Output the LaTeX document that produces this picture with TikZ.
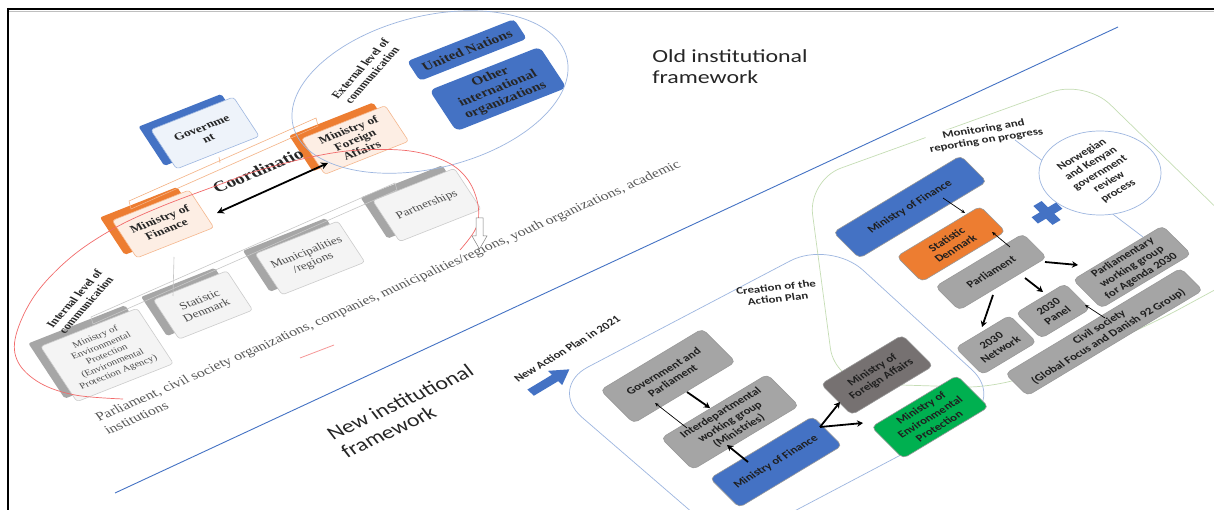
\documentclass[tikz,border=0pt]{standalone}
\usepackage{fontspec}
\setmainfont{Liberation Serif}
\newfontfamily\carl{Carlito}
\usetikzlibrary{arrows.meta,calc,shapes.geometric}
\definecolor{oblue}{HTML}{4472C4}
\definecolor{oorange}{HTML}{ED7D31}
\definecolor{ogray}{HTML}{A5A5A5}
\definecolor{dgray}{HTML}{767171}
\definecolor{ogreen}{HTML}{00B050}
\definecolor{lblue}{HTML}{9DB6E0}
\definecolor{lgreen}{HTML}{C5DDB5}
\definecolor{peach}{HTML}{FDEEE4}
\definecolor{pale}{HTML}{EEF3FA}
\definecolor{rred}{HTML}{F26B6B}
\definecolor{tabgray}{HTML}{A6A6A6}
\definecolor{frontgray}{HTML}{F4F4F4}
\tikzset{
  oT/.style={cm={1.149,0.454,-0.586,0.891,(0,0)}},
  nT/.style={cm={1.019,0.613,-0.791,0.790,(0,0)}},
  otab/.style={oT, rounded corners=2pt, inner sep=0pt, draw=none, xshift=-7pt, yshift=7pt},
  ofront/.style={oT, rounded corners=3pt, inner sep=1pt, align=center, line width=0.6pt},
  obold/.style={font=\bfseries\fontsize{10.5}{11.5}\selectfont, text=black!85},
  oreg/.style={font=\fontsize{10.5}{11.5}\selectfont, text=black!70},
  nbox/.style={nT, rounded corners=5pt, inner sep=1pt, align=center, draw=black!40, line width=0.6pt, font=\carl\bfseries\fontsize{10}{11.5}\selectfont, text=black!88},
  ntext/.style={font=\carl\bfseries\fontsize{10}{11.5}\selectfont, text=black!85, align=center},
  bigsans/.style={font=\carl\fontsize{18.5}{21}\selectfont, text=black!85, align=left},
  thk/.style={line width=1.8pt, -{Stealth[length=6pt,width=6.5pt]}},
  thn/.style={line width=0.7pt, -{Stealth[length=4pt,width=3.5pt]}},
  longtxt/.style={font=\fontsize{12.3}{14}\selectfont, text=black!65, inner sep=0pt, anchor=base west, cm={1.123,0.492,-0.635,0.870,(0,0)}},
  levtxt/.style={font=\bfseries\fontsize{10}{11}\selectfont, text=black!85, align=center, cm={0.740,0.819,-1.057,0.574,(0,0)}},
}
\begin{document}
\begin{tikzpicture}[x=1pt,y=1pt]
\useasboundingbox (0,0) rectangle (1214,-510);
\fill[white] (0,0) rectangle (1214,-510);
\clip (0,0) rectangle (1214,-510);
% frame
\draw[black!25, line width=1.2pt] (9,-11.5) -- (1214,-11.5);
\draw[line width=2.2pt] (7,-9) -- (1214,-9);
\draw[line width=2.2pt] (8,-8) -- (8,-510);
% dividing line
\draw[oblue, line width=0.9pt] (115,-493) -- (1118,-27);

% ===== OLD FRAMEWORK =====
\node[otab, fill=oblue, minimum width=72pt, minimum height=44pt] (govtab) at (205,-133) {};
\node[otab, fill=oorange, minimum width=73pt, minimum height=40pt] (mfaOtab) at (355,-140) {};
\node[otab, fill=oorange, minimum width=67pt, minimum height=42pt] (mofOtab) at (163,-224) {};
\node[otab, fill=tabgray, minimum width=71pt, minimum height=46pt] (partOtab) at (427,-205) {};
\node[otab, fill=tabgray, minimum width=72pt, minimum height=46pt] (muniOtab) at (310,-258) {};
\node[otab, fill=tabgray, minimum width=64pt, minimum height=44pt] (sdOtab) at (203,-305) {};
\node[otab, fill=tabgray, minimum width=84pt, minimum height=62pt] (mepOtab) at (107,-355) {};

\node[ofront, draw=lblue, fill=pale, minimum width=72pt, minimum height=44pt, obold] (gov) at (205,-133) {Governme\\nt};
\node[ofront, draw=oorange!55, fill=peach, minimum width=73pt, minimum height=40pt, obold] (mfaO) at (355,-140) {Ministry of\\Foreign\\Affairs};
\node[ofront, draw=oorange!55, fill=peach, minimum width=67pt, minimum height=42pt, obold] (mofO) at (163,-224) {Ministry of\\Finance};
\node[ofront, draw=black!20, fill=frontgray, minimum width=71pt, minimum height=46pt, oreg] (partO) at (427,-205) {Partnerships};
\node[ofront, draw=black!20, fill=frontgray, minimum width=72pt, minimum height=46pt, oreg] (muniO) at (310,-258) {Municipalities\\/regions};
\node[ofront, draw=black!20, fill=frontgray, minimum width=64pt, minimum height=44pt, oreg] (sdO) at (203,-305) {Statistic\\Denmark};
\node[ofront, draw=black!20, fill=frontgray, minimum width=84pt, minimum height=62pt, font=\fontsize{8.5}{9.8}\selectfont, text=black!70] (mepO) at (107,-355) {Ministry of\\Environmental\\Protection\\(Environmental\\Protection Agency)};

% hierarchy connectors
\draw[oorange!60, line width=0.6pt] ($(mofO)+(-34,23)$) -- ($(mfaO)+(-39,22)$) -- ($(mfaO)+(-37,14)$) -- ($(mofO)+(-32,15)$) -- cycle;
\draw[oorange!60, line width=0.6pt] ($(gov)+(14,-24)$) -- ($(gov)+(15,-30)$);
\draw[black!22, line width=0.6pt] ($(mepO)+(-16,38)$) -- ($(partO)+(-32,22)$) -- ($(partO)+(-30,15)$) -- ($(mepO)+(-14,31)$) -- cycle;
\draw[black!22, line width=0.6pt] ($(mofO)+(11,-33)$) -- ($(sdO)+(-30,9)$);

% United Nations etc.
\node[oT, fill=oblue, rounded corners=4pt, minimum width=93pt, minimum height=22pt, inner sep=1pt, font=\bfseries\fontsize{12}{13}\selectfont, text=black!85] (un) at (467,-50) {United Nations};
\node[oT, fill=oblue, rounded corners=6pt, minimum width=96pt, minimum height=46pt, inner sep=1pt, align=center, font=\bfseries\fontsize{12}{13}\selectfont, text=black!85] (oio) at (498,-89) {Other\\international\\organizations};

% coordination
\node[font=\bfseries\fontsize{15}{17}\selectfont, text=black!85, cm={1.134,0.477,-0.615,0.879,(0,0)}] (coord) at (258,-171) {Coordinatio};
\draw[line width=1.8pt, {Stealth[length=7pt,width=7pt]}-{Stealth[length=7pt,width=7pt]}] ($(mofO)+(54,11)$) -- ($(mfaO)+(-27,-23)$);

% level texts
\node[levtxt] (ext) at (366,-72) {External level of\\communication};
\node[levtxt] (int) at (80,-302) {Internal level of\\communication};

% long text
\node[longtxt] (long1) at (99,-422) {Parliament, civil society organizations, companies, municipalities/regions, youth organizations, academic};
\node[longtxt] (long2) at (108,-435) {institutions};

% ellipse and red arc
\draw[lblue, line width=0.7pt, rotate around={14:(430,-92)}] (430,-92) ellipse [x radius=141, y radius=76];
\draw[rred, line width=0.7pt] plot[smooth, tension=0.6] coordinates {(460,-250) (476,-228) (478,-205) (468,-180) (447,-162) (410,-151) (360,-150) (316,-156) (260,-170) (221,-184) (160,-207) (113,-229) (70,-258) (35,-295) (16,-335) (18,-362) (40,-383) (75,-395) (123,-399)};
\draw[rred!70, line width=0.8pt] (300,-358) -- (334,-345);
\draw[black!50, fill=white, line width=0.5pt] (476,-218) -- (483,-218) -- (483,-236) -- (487,-236) -- (479.5,-249) -- (472,-236) -- (476,-236) -- cycle;

% labels
\node[bigsans, anchor=north west, inner sep=0pt, cm={1.29,0,0,1,(0,0)}] (oldf) at (652,-49) {Old institutional\\framework};
\node[bigsans, cm={1.106,0.515,-0.664,0.857,(0,0)}] (newf) at (407,-411) {New institutional\\framework};

% ===== NEW FRAMEWORK =====
\draw[lblue, line width=0.7pt, rounded corners=45pt] (548,-388) -- (830,-240) -- (1005,-400) -- (730,-545) -- cycle;
\draw[lgreen, line width=0.7pt, rounded corners=35pt] (1000,-388) -- (835,-383) -- (808,-180) -- (1085,-80) -- (1270,-260) -- (1150,-325) -- cycle;

\node[ntext, nT] (nap) at (567,-349) {New Action Plan in 2021};
\fill[oblue, shift={(550,-381)}, nT] (-19,-4) -- (5,-4) -- (5,-9) -- (19,0) -- (5,9) -- (5,4) -- (-19,4) -- cycle;
\node[ntext, cm={1.278,0.134,-0.173,0.991,(0,0)}] (crea) at (777,-293) {Creation of the\\Action Plan};
\node[ntext, fill=white, inner sep=1pt, cm={1.264,0.199,-0.257,0.980,(0,0)}] (mon) at (985,-135) {Monitoring and\\reporting on progress};

% creation boxes
\node[nbox, fill=ogray, minimum width=100pt, minimum height=42pt] (gp) at (668,-376) {Government and\\Parliament};
\node[nbox, fill=ogray, minimum width=104pt, minimum height=40pt] (idwg) at (730,-422) {Interdepartmental\\working group\\(Ministries)};
\node[nbox, fill=oblue, minimum width=101pt, minimum height=37pt] (mofN) at (776,-462) {Ministry of Finance};
\node[nbox, fill=dgray, minimum width=80pt, minimum height=39pt] (mfaN) at (877,-375) {Ministry of\\Foreign Affairs};
\node[nbox, fill=ogreen, minimum width=84pt, minimum height=40pt] (mepN) at (930,-417) {Ministry of\\Environmental\\Protection};

\draw[thk] ($(gp)+(19,-16)$) -- ($(idwg)+(-20,14)$);
\draw[thn] ($(idwg)+(-43,-6)$) -- ($(gp)+(-13,-27)$);
\draw[thk] ($(mofN)+(-28,0)$) -- ($(idwg)+(-3,-23)$);
\draw[thk] ($(mofN)+(44,35)$) -- ($(mfaN)+(-37,-27)$);
\draw[thk] ($(mofN)+(44,35)$) -- ($(mepN)+(-67,-6)$);

% monitoring
\node[nbox, fill=ogray, minimum width=88pt, minimum height=36pt] (pwg) at (1132,-267) {Parliamentary\\working group\\for Agenda 2030};
\draw[lblue, line width=0.7pt] ($(mon)+(30,-5)$) -- ($(pwg)+(11,30)$);
\node[draw=lblue, fill=white, ellipse, line width=0.7pt, minimum width=122pt, minimum height=84pt, inner sep=0pt] (circ) at (1100,-173) {};
\node[ntext, nT] (nor) at (1100,-173) {Norwegian\\and Kenyan\\government\\review\\process};
\fill[oblue, shift={(1047,-213)}, nT] (-12,-4) -- (-4,-4) -- (-4,-12) -- (4,-12) -- (4,-4) -- (12,-4) -- (12,4) -- (4,4) -- (4,12) -- (-4,12) -- (-4,4) -- (-12,4) -- cycle;

\node[nbox, fill=oblue, minimum width=125pt, minimum height=33pt] (mofM) at (910,-207) {Ministry of Finance};
\node[nbox, fill=oorange, minimum width=82pt, minimum height=32pt] (sdM) at (951,-244) {Statistic\\Denmark};
\node[nbox, fill=ogray, minimum width=86pt, minimum height=30pt] (parlM) at (991,-272) {Parliament};
\node[nbox, fill=ogray, minimum width=172pt, minimum height=28pt] (cs) at (1104,-332) {Civil society\\(Global Focus and Danish 92 Group)};
\node[nbox, fill=ogray, minimum width=53pt, minimum height=34pt] (net) at (996,-345) {2030\\Network};
\node[nbox, fill=ogray, minimum width=48pt, minimum height=32pt] (panel) at (1053,-311) {2030\\Panel};

\draw[thn] ($(mofM)+(33,9)$) -- ($(sdM)+(14,31)$);
\draw[thn] ($(parlM)+(19,25)$) -- ($(sdM)+(41,12)$);
\draw[thk] ($(parlM)+(54,10)$) -- ($(pwg)+(-54,2)$);
\draw[thk] ($(parlM)+(34,-6)$) -- ($(panel)+(-10,19)$);
\draw[thk] ($(parlM)+(2,-23)$) -- ($(net)+(-14,18)$);
\draw[thn] ($(cs)+(1,14)$) -- ($(panel)+(32,6)$);
\end{tikzpicture}
\end{document}
